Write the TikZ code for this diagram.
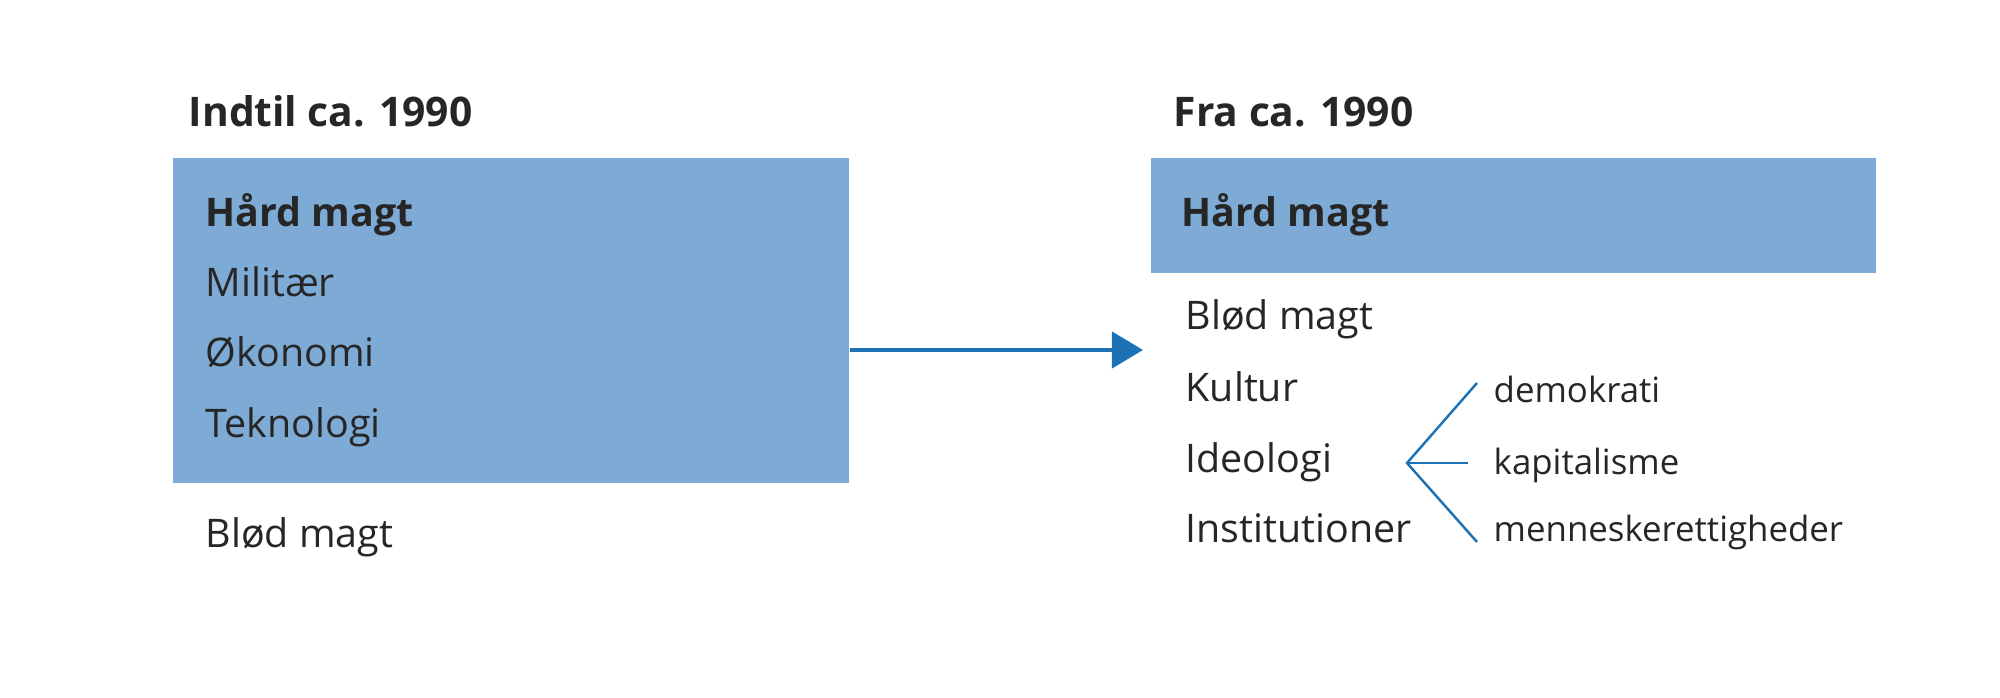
\documentclass[tikz,border=0pt]{standalone}
\usepackage{fontspec}
\setmainfont{Open Sans}
\usetikzlibrary{arrows.meta}
\definecolor{boxblue}{HTML}{7EAAD6}
\definecolor{arrowblue}{HTML}{1C72B5}
\definecolor{txt}{HTML}{262626}
\begin{document}
\begin{tikzpicture}[x=0.01cm,y=-0.01cm,
  bluebox/.style={fill=boxblue,draw=none,inner sep=0pt,anchor=north west},
  head/.style={anchor=base west,inner sep=0pt,font=\fontsize{11.6}{13}\selectfont\bfseries,text=txt},
  item/.style={anchor=base west,inner sep=0pt,font=\fontsize{11.2}{13}\selectfont,text=txt},
  itembold/.style={item,font=\fontsize{11.2}{13}\selectfont\bfseries},
  subitem/.style={anchor=base west,inner sep=0pt,font=\fontsize{9.9}{12}\selectfont,text=txt},
  conn/.style={draw=arrowblue,line width=1.15pt,-{Triangle[length=0.31cm,width=0.36cm]}},
  brace/.style={draw=arrowblue,line width=0.7pt}]
\useasboundingbox (0,0) rectangle (2000,698);
% boxes
\node[bluebox,minimum width=6.76cm,minimum height=3.25cm] (lbox) at (172,157) {};
\node[bluebox,minimum width=7.25cm,minimum height=1.15cm] (rbox) at (1150,157) {};
% headings
\node[head] (lhead) at (188,127) {Indtil ca. 1990};
\node[head] (rhead) at (1173,127) {Fra ca. 1990};
% left column
\node[itembold] (lhard) at (205,227) {Hård magt};
\node[item] (lmil) at (205,297) {Militær};
\node[item] (lok) at (205,367) {Økonomi};
\node[item] (ltek) at (205,438) {Teknologi};
\node[item] (lblod) at (205,548) {Blød magt};
% right column
\node[itembold] (rhard) at (1181,227) {Hård magt};
\node[item] (rblod) at (1185,330) {Blød magt};
\node[item] (rkul) at (1185,402) {Kultur};
\node[item] (rideo) at (1185,473) {Ideologi};
\node[item] (rinst) at (1185,543) {Institutioner};
% sub items
\node[subitem] (sdem) at (1493,403) {demokrati};
\node[subitem] (skap) at (1493,475) {kapitalisme};
\node[subitem] (smen) at (1493,542) {menneskerettigheder};
% arrow
\coordinate (arrowend) at (1143,350);
\draw[conn] (lbox.east |- arrowend) -- (arrowend);
% bracket
\coordinate (apex) at (1407,463);
\coordinate (btop) at (1477,383);
\coordinate (bmid) at (1468,463);
\coordinate (bbot) at (1477,542);
\draw[brace] (btop) -- (apex) -- (bbot);
\draw[brace] (apex) -- (bmid);
\end{tikzpicture}
\end{document}
